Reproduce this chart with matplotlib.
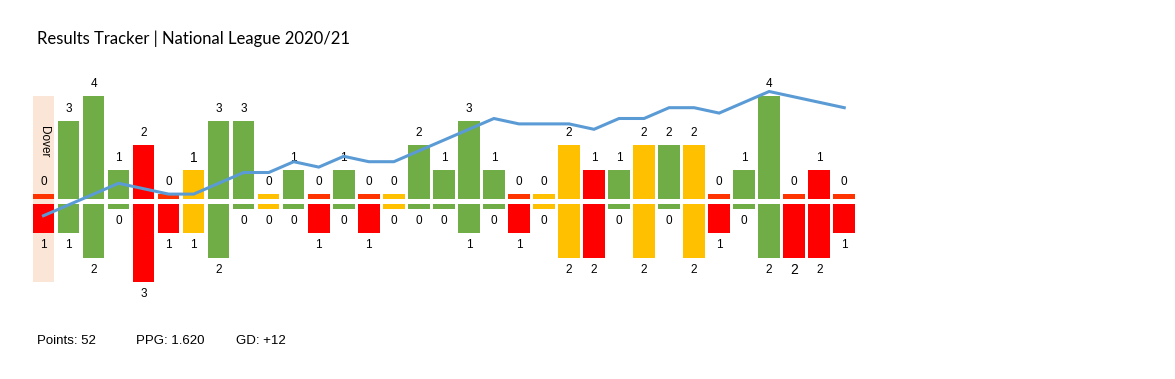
import matplotlib
matplotlib.use("Agg")
import matplotlib.pyplot as plt

# one entry per league match, in order
goals_for = [0, 3, 4, 1, 2, 0, 1, 3, 3, 0, 1, 0, 1, 0, 0, 2, 1,
             3, 1, 0, 0, 2, 1, 1, 2, 2, 2, 0, 1, 4, 0, 1, 0]
goals_against = [1, 1, 2, 0, 3, 1, 1, 2, 0, 0, 0, 1, 0, 1, 0, 0, 0,
                 1, 0, 1, 0, 2, 2, 0, 2, 0, 2, 1, 0, 2, 2, 2, 1]
# running points minus games played
form_line = [-1, 1, 3, 5, 4, 3, 3, 5, 7, 7, 9, 8, 10, 9, 9, 11, 13,
             15, 17, 16, 16, 16, 15, 17, 17, 19, 19, 18, 20, 22, 21, 20, 19]
expunged = {0: "Dover"}
big_labels = [(6, "for"), (30, "against")]

title = "Results Tracker | National League 2020/21"
footer = ["Points: 52", "PPG: 1.620", "GD: +12"]

GREEN, YELLOW, RED, ZERO_LOSS = "#70AD47", "#FFC000", "#FF0000", "#FF3300"
GAP, MIN_H = 0.1, 0.2

fig = plt.figure(figsize=(11.75, 3.79), dpi=100)
ax = fig.add_axes([30 / 1175, 59 / 379, 830 / 1175, 260 / 379])
ax.set_xlim(-0.54, 32.63)
ax.set_ylim(-4.837, 5.776)
ax.axis("off")

n = len(goals_for)
top_max = max(goals_for) + GAP + MIN_H
bot_max = max(goals_against) + GAP + MIN_H
for i, name in expunged.items():
    ax.bar(i, top_max + bot_max, bottom=-bot_max, width=0.86,
           color="#FBE5D6", zorder=0)
    ax.text(i, 2.43, name, rotation=270, ha="center", va="center",
            fontsize=8.5, family="Liberation Sans")

for i in range(n):
    gf, ga = goals_for[i], goals_against[i]
    if gf > ga:
        c = GREEN
    elif gf == ga:
        c = YELLOW
    else:
        c = RED
    c_top = ZERO_LOSS if (c == RED and gf == 0) else c
    ax.bar(i, gf + MIN_H, bottom=GAP, width=0.86, color=c_top, zorder=2)
    ax.bar(i, -(ga + MIN_H), bottom=-GAP, width=0.86, color=c, zorder=2)

    fs_top = 10 if (i, "for") in big_labels else 8.5
    fs_bot = 10 if (i, "against") in big_labels else 8.5
    ax.annotate(str(gf), (i, gf + MIN_H + GAP), xytext=(0, 8.6),
                textcoords="offset points", ha="center", va="center",
                fontsize=fs_top, family="Liberation Sans", zorder=3)
    ax.annotate(str(ga), (i, -(ga + MIN_H + GAP)), xytext=(0, -8.6),
                textcoords="offset points", ha="center", va="center",
                fontsize=fs_bot, family="Liberation Sans", zorder=3)

ax2 = ax.twinx()
ax2.set_ylim(-20.31, 27.83)
ax2.axis("off")
ax2.plot(range(n), form_line, color="#5B9BD5", lw=2.2,
         solid_joinstyle="miter")

fig.text(37 / 1175, 1 - 39 / 379, title, fontsize=12, family="Lato",
         va="center")
for k, s in enumerate(footer):
    fig.text((37 + 99.5 * k) / 1175, 1 - 341 / 379, s, fontsize=9.5,
             family="Liberation Sans", va="center")

fig.savefig("out.png", dpi=100)
